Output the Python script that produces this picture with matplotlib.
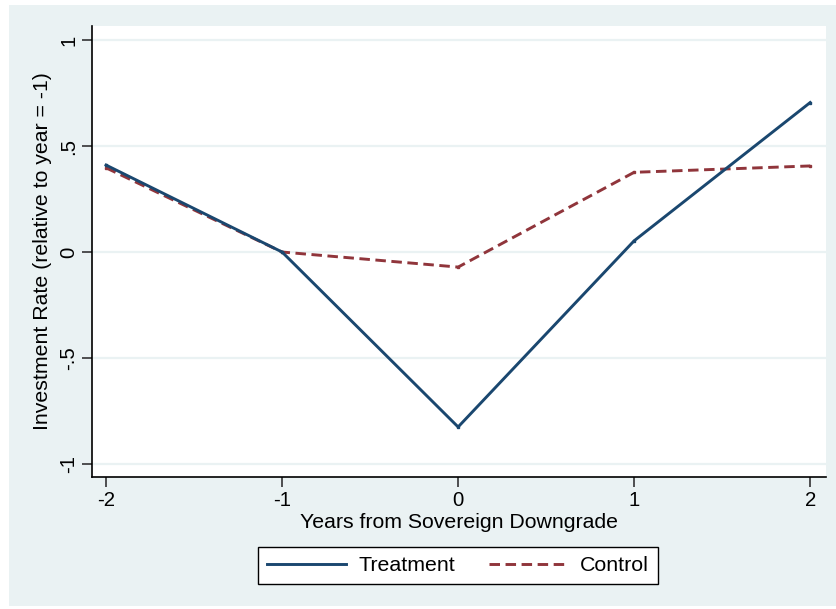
import matplotlib
matplotlib.use("Agg")
import matplotlib.pyplot as plt
from matplotlib.patches import Rectangle

years = [-2, -1, 0, 1, 2]
treatment = [0.41, 0.0, -0.825, 0.053, 0.705]
control = [0.397, 0.0, -0.071, 0.376, 0.406]
yticks = [-1, -0.5, 0, 0.5, 1]
ytick_labels = ["-1", "-.5", "0", ".5", "1"]
xticks = [-2, -1, 0, 1, 2]

plt.rcParams['font.family'] = ['Liberation Sans', 'DejaVu Sans']
W, H = 836, 609
fig = plt.figure(figsize=(W/100, H/100), dpi=100)
fig.patch.set_facecolor('white')
fig.patches.append(Rectangle((9/W, 1-606/H), 1-9/W, (606-5)/H, transform=fig.transFigure,
                             facecolor='#eaf2f3', edgecolor='none', zorder=-10))

ax = fig.add_axes([92/W, 1-477/H, (826-92)/W, (477-26)/H])
ax.set_zorder(1)
ax.set_facecolor('white')
ax.set_xlim(-2.08, 2.09)
ax.set_ylim(-1.061, 1.066)
for y in yticks:
    ax.axhline(y, color='#eaf2f3', lw=1.6, zorder=1)
ax.plot(years, treatment, color='#1a476f', lw=2.1, label='Treatment', zorder=3,
        marker='s', markersize=2)
ax.plot(years, control, color='#90353b', lw=2.1, ls=(0, (3.6, 1.9)), label='Control', zorder=2,
        marker='s', markersize=2)
for s in ['top', 'right']:
    ax.spines[s].set_visible(False)
for s in ['left', 'bottom']:
    ax.spines[s].set_color('black')
    ax.spines[s].set_linewidth(1.2)
ax.set_yticks(yticks)
ax.set_yticklabels(ytick_labels, rotation=90, va='center', fontsize=14.7)
ax.set_xticks(xticks)
ax.set_xticklabels([str(x) for x in xticks], fontsize=14.7)
ax.tick_params(length=7, width=1.2, color='#333333', pad=3)
ax.set_xlabel('Years from Sovereign Downgrade', fontsize=15.3, labelpad=2)
ax.set_ylabel('Investment Rate (relative to year = -1)', fontsize=15.3, labelpad=5)

leg = fig.legend(loc='center', bbox_to_anchor=(458/W, 1-565.5/H), ncol=2, frameon=True,
                 fancybox=False, edgecolor='black', facecolor='white', framealpha=1,
                 fontsize=15.4, handlelength=3.7, columnspacing=1.6, borderpad=0.4,
                 handletextpad=0.56, borderaxespad=0)
leg.get_frame().set_linewidth(1.0)
leg.set_zorder(2)
for h in leg.legend_handles:
    h.set_marker('')

fig.savefig('out.png', dpi=100, facecolor=fig.get_facecolor())
